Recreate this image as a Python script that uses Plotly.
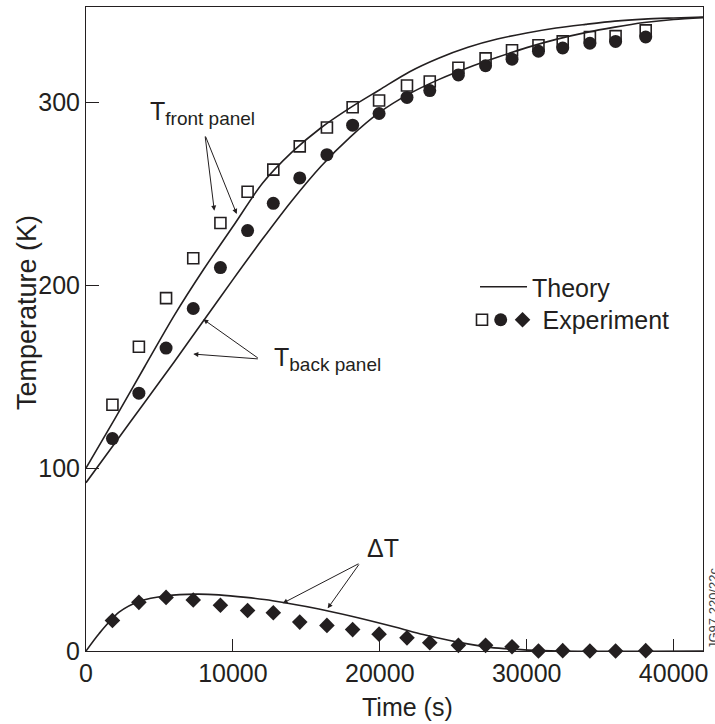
import plotly.graph_objects as go

# ---------------- data ----------------
time_s = [1800, 3600, 5450, 7300, 9150, 11000, 12750, 14550, 16400, 18150, 19950,
          21850, 23400, 25350, 27200, 29000, 30800, 32450, 34300, 36050, 38100]
front_exp = [134.6, 166.3, 192.9, 214.7, 233.9, 251.0, 263.1, 275.8, 286.1, 297.2, 300.9,
             309.1, 311.3, 318.8, 323.9, 328.4, 331.1, 333.2, 335.6, 336.1, 339.2]
back_exp = [116.1, 140.9, 165.6, 187.2, 209.6, 229.8, 244.7, 258.6, 271.3, 287.4, 293.8,
            302.6, 306.3, 314.9, 319.9, 323.5, 327.8, 329.6, 332.2, 333.2, 335.6]
dT_exp = [16.7, 26.6, 29.3, 27.9, 25.0, 22.1, 20.9, 15.8, 14.0, 11.7, 9.2,
          7.2, 4.5, 3.1, 3.1, 2.3, 0.0, 0.2, 0.0, 0.0, 0.2]

theory_t = [0, 2000, 4000, 6000, 8000, 10000, 12000, 14000, 16000, 18000, 20000,
            22000, 24000, 26000, 28000, 30000, 32000, 34000, 36000, 38000, 40000, 42000]
front_theory = [100, 127.4, 155.5, 183.3, 208.5, 232, 255.5, 272.5, 286, 297, 306.8,
                316.5, 324, 330, 334.5, 337.8, 340.5, 342.5, 344.3, 345.4, 346, 346.5]
back_theory = [92, 114, 136, 158, 180.5, 203, 225, 246, 265, 281, 294.5,
               304.5, 312.3, 318.8, 324.5, 329.8, 334.3, 338, 341, 343.5, 345.2, 346.2]

dT_theory_t = [0, 900, 2250, 3650, 5500, 7500, 9050, 10900, 12700, 15850, 18150,
               21100, 22950, 25200, 27500, 30100, 32250, 42000]
dT_theory = [0, 9.6, 21.2, 27.2, 30.2, 31.1, 30.7, 29.3, 27.5, 23.0, 18.9,
             13.0, 9.0, 5.0, 2.0, 0.5, 0, 0]

x_ticks = [0, 10000, 20000, 30000, 40000]
y_ticks = [0, 100, 200, 300]

INK = "#231f20"
FONT = "Liberation Sans, Arial, Helvetica, sans-serif"

fig = go.Figure()

line_style = dict(color=INK, width=1.6, shape="spline", smoothing=0.8)
fig.add_trace(go.Scatter(x=theory_t, y=front_theory, mode="lines", line=line_style,
                         name="Theory", legend="legend", showlegend=True))
fig.add_trace(go.Scatter(x=theory_t, y=back_theory, mode="lines", line=line_style,
                         showlegend=False))
fig.add_trace(go.Scatter(x=dT_theory_t, y=dT_theory, mode="lines", line=line_style,
                         showlegend=False))

fig.add_trace(go.Scatter(x=time_s, y=front_exp, mode="markers", name=" ",
                         marker=dict(symbol="square-open", size=11, color=INK,
                                     line=dict(width=1.6, color=INK)),
                         legend="legend2", showlegend=True, cliponaxis=False))
fig.add_trace(go.Scatter(x=time_s, y=back_exp, mode="markers", name=" ",
                         marker=dict(symbol="circle", size=13, color=INK),
                         legend="legend3", showlegend=True, cliponaxis=False))
fig.add_trace(go.Scatter(x=time_s, y=dT_exp, mode="markers", name="Experiment",
                         marker=dict(symbol="diamond", size=12, color=INK),
                         legend="legend4", showlegend=True, cliponaxis=False))

arrow = dict(showarrow=True, arrowhead=2, arrowsize=1, arrowwidth=1, arrowcolor=INK,
             axref="x", ayref="y", text="", standoff=0)
annotations = [
    # T front panel arrows
    dict(x=8734, y=240.7, ax=8100, ay=282.0, **arrow),
    dict(x=10258, y=238.9, ax=8100, ay=282.0, **arrow),
    # T back panel arrows
    dict(x=7985, y=181.3, ax=11797, ay=159.6, **arrow),
    dict(x=7304, y=162.3, ax=11797, ay=159.6, **arrow),
    # Delta T arrows
    dict(x=13390, y=26.1, ax=18650, ay=48.1, **arrow),
    dict(x=16453, y=23.3, ax=18650, ay=48.1, **arrow),
    # labels
    dict(x=4220, y=294.3, xanchor="left", yanchor="middle", showarrow=False,
         text="T<sub><span style='font-size:19px'>front panel</span></sub>",
         font=dict(size=25, color=INK, family=FONT)),
    dict(x=12661, y=159.6, xanchor="left", yanchor="middle", showarrow=False,
         text="T<sub><span style='font-size:19px'>back panel</span></sub>",
         font=dict(size=25, color=INK, family=FONT)),
    dict(x=18992, y=56.3, xanchor="left", yanchor="middle", showarrow=False,
         text="\u0394T", font=dict(size=25, color=INK, family=FONT)),
    # axis titles
    dict(xref="paper", yref="paper", x=0.521, y=-0.087, showarrow=False,
         xanchor="center", yanchor="middle", text="Time (s)",
         font=dict(size=25, color=INK, family=FONT)),
    dict(xref="paper", yref="paper", x=-0.0956, y=0.5248, showarrow=False,
         xanchor="center", yanchor="middle", text="Temperature (K)", textangle=-90,
         font=dict(size=27, color=INK, family=FONT)),
    # figure id on the right edge
    dict(xref="paper", yref="paper", x=1, y=0, xanchor="left", yanchor="bottom",
         xshift=1, showarrow=False, text="JG97.220/22c", textangle=-90,
         font=dict(size=13, color="#444444", family=FONT)),
]

legend_common = dict(bgcolor="rgba(0,0,0,0)", borderwidth=0,
                     font=dict(size=25, color=INK, family=FONT),
                     xanchor="left", yanchor="middle", itemclick=False,
                     itemdoubleclick=False)

fig.update_layout(
    width=715, height=724,
    margin=dict(l=86, r=12, t=7, b=73),
    paper_bgcolor="white", plot_bgcolor="white",
    font=dict(family=FONT, size=25, color=INK),
    xaxis=dict(range=[0, 42000], tickvals=x_ticks, tickformat="d",
               ticks="inside", ticklen=12, tickwidth=1, tickcolor=INK,
               showline=True, linecolor=INK, linewidth=1, mirror=True,
               showgrid=False, zeroline=False,
               tickfont=dict(size=25, color=INK, family=FONT)),
    yaxis=dict(range=[0, 352], tickvals=y_ticks, tickformat="d",
               ticks="inside", ticklen=13, tickwidth=1, tickcolor=INK,
               showline=True, linecolor=INK, linewidth=1, mirror=True,
               showgrid=False, zeroline=False,
               tickfont=dict(size=25, color=INK, family=FONT)),
    annotations=annotations,
    legend=dict(x=0.6305, y=0.5652, itemwidth=47, **legend_common),
    legend2=dict(x=0.6094, y=0.514, **legend_common),
    legend3=dict(x=0.6397, y=0.514, **legend_common),
    legend4=dict(x=0.6751, y=0.514, **legend_common),
)

fig.write_html("out.html", config={"displayModeBar": False},
               post_script="document.body.style.margin='0';")
